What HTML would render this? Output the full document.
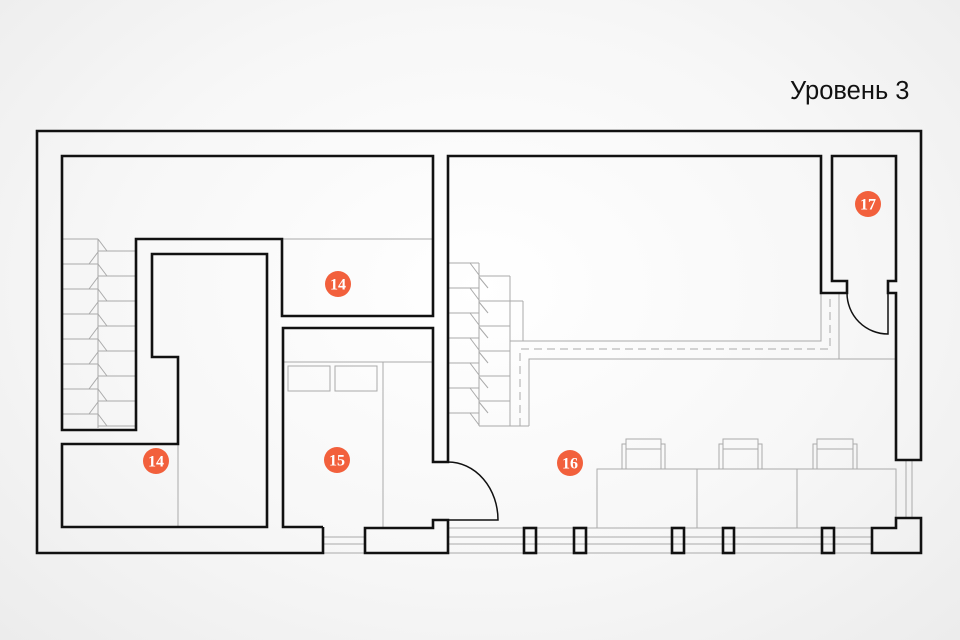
<!DOCTYPE html>
<html><head><meta charset="utf-8"><style>
html,body{margin:0;padding:0}
body{width:960px;height:640px;overflow:hidden;background:radial-gradient(ellipse at 50% 45%,#ffffff 0%,#f7f7f7 55%,#ececec 100%)}
svg{position:absolute;left:0;top:0}
</style></head><body>
<svg width="960" height="640" viewBox="0 0 960 640" xmlns="http://www.w3.org/2000/svg">
<text x="790" y="99" font-family="Liberation Sans, sans-serif" font-size="25.5" fill="#111">Уровень 3</text>
<g fill="none" stroke="#aaa" stroke-width="1">
<path d="M62 239H98M62 264H98M62 289H98M62 314H98M62 339H98M62 364H98M62 389H98M62 414H98"/>
<path d="M98 251H136M98 276H136M98 301H136M98 326H136M98 351H136M98 376H136M98 401H136M98 426H136"/>
<path d="M98 239V428"/>
<path d="M98 239L107 251M98 264L107 276M98 289L107 301M98 314L107 326M98 339L107 351M98 364L107 376M98 389L107 401M98 414L107 426"/>
<path d="M98 252L89 264M98 277L89 289M98 302L89 314M98 327L89 339M98 352L89 364M98 377L89 389M98 402L89 414"/>
<path d="M448 263H479M448 288H479M448 313H479M448 338H479M448 363H479M448 388H479M448 413H479"/>
<path d="M479 276H510M479 301H523M479 326H510M479 351H510M479 376H510M479 401H510M479 426H529"/>
<path d="M479 263V426M510 276V426M523 301V341"/>
<path d="M470 263L479 275M470 288L479 300M470 313L479 325M470 338L479 350M470 363L479 375M470 388L479 400M470 413L479 425"/>
<path d="M479 277L488 288M479 302L488 313M479 327L488 338M479 352L488 363M479 377L488 388M479 402L488 413"/>
<path d="M510 341H821V293M529 426V359H896M839 293V359"/>
<path d="M520 426V349H830V293" stroke-dasharray="8 5"/>
<path d="M282 239H433M178 444V527M283 362H433M383 362V527"/>
<rect x="288" y="366" width="42" height="25"/><rect x="335" y="366" width="42" height="25"/>
<rect x="597" y="469" width="299" height="59"/><path d="M697 469V528M797 469V528"/>
<path d="M622 469V444H626V439H661V444H665V469M626 444V469M661 444V469M626 449H661"/>
<path d="M719 469V444H723V439H758V444H762V469M723 444V469M758 444V469M723 449H758"/>
<path d="M813 469V444H817V439H853V444H857V469M817 444V469M853 444V469M817 449H853"/>
<path d="M448 537H872M448 544H872M448 528H872M448 553H872M323 537H365M323 544H365M323 553H365"/>
<path d="M906 460V518M912 460V518"/>
</g>
<g fill="none" stroke="#111" stroke-width="2.6" stroke-linejoin="miter">
<path d="M323 527V553H37V131H921V460H896V293H888V281H896V156H832V281H847V293H821V156H448V462H433V328H283V527H323"/>
<path d="M62 430V156H433V316H282V239H136V430Z"/>
<path d="M62 444H178V357H152V254H267V527H62Z"/>
<path d="M365 553V528H433V520H448V553Z"/>
<path d="M896 518H921V553H872V528H896Z"/>
<rect x="524" y="528" width="12" height="25"/><rect x="574" y="528" width="12" height="25"/>
<rect x="672" y="528" width="12" height="25"/><rect x="723" y="528" width="11" height="25"/>
<rect x="822" y="528" width="12" height="25"/>
</g>
<g fill="none" stroke="#111" stroke-width="1.5">
<path d="M448 520H498A50 58 0 0 0 448 462"/>
<path d="M888 293V334A41 41 0 0 1 847 293"/>
</g>
<g fill="#f2603c">
<circle cx="338" cy="284" r="13"/><circle cx="156" cy="461" r="13"/><circle cx="337" cy="460" r="13"/>
<circle cx="570" cy="463" r="13"/><circle cx="868" cy="204" r="13"/>
</g>
<g fill="#fff" font-family="Liberation Serif, serif" font-weight="bold" font-size="16" text-anchor="middle">
<text x="338" y="289.5">14</text><text x="156" y="466.5">14</text><text x="337" y="465.5">15</text>
<text x="570" y="468.5">16</text><text x="868" y="209.5">17</text>
</g>
</svg>
</body></html>
